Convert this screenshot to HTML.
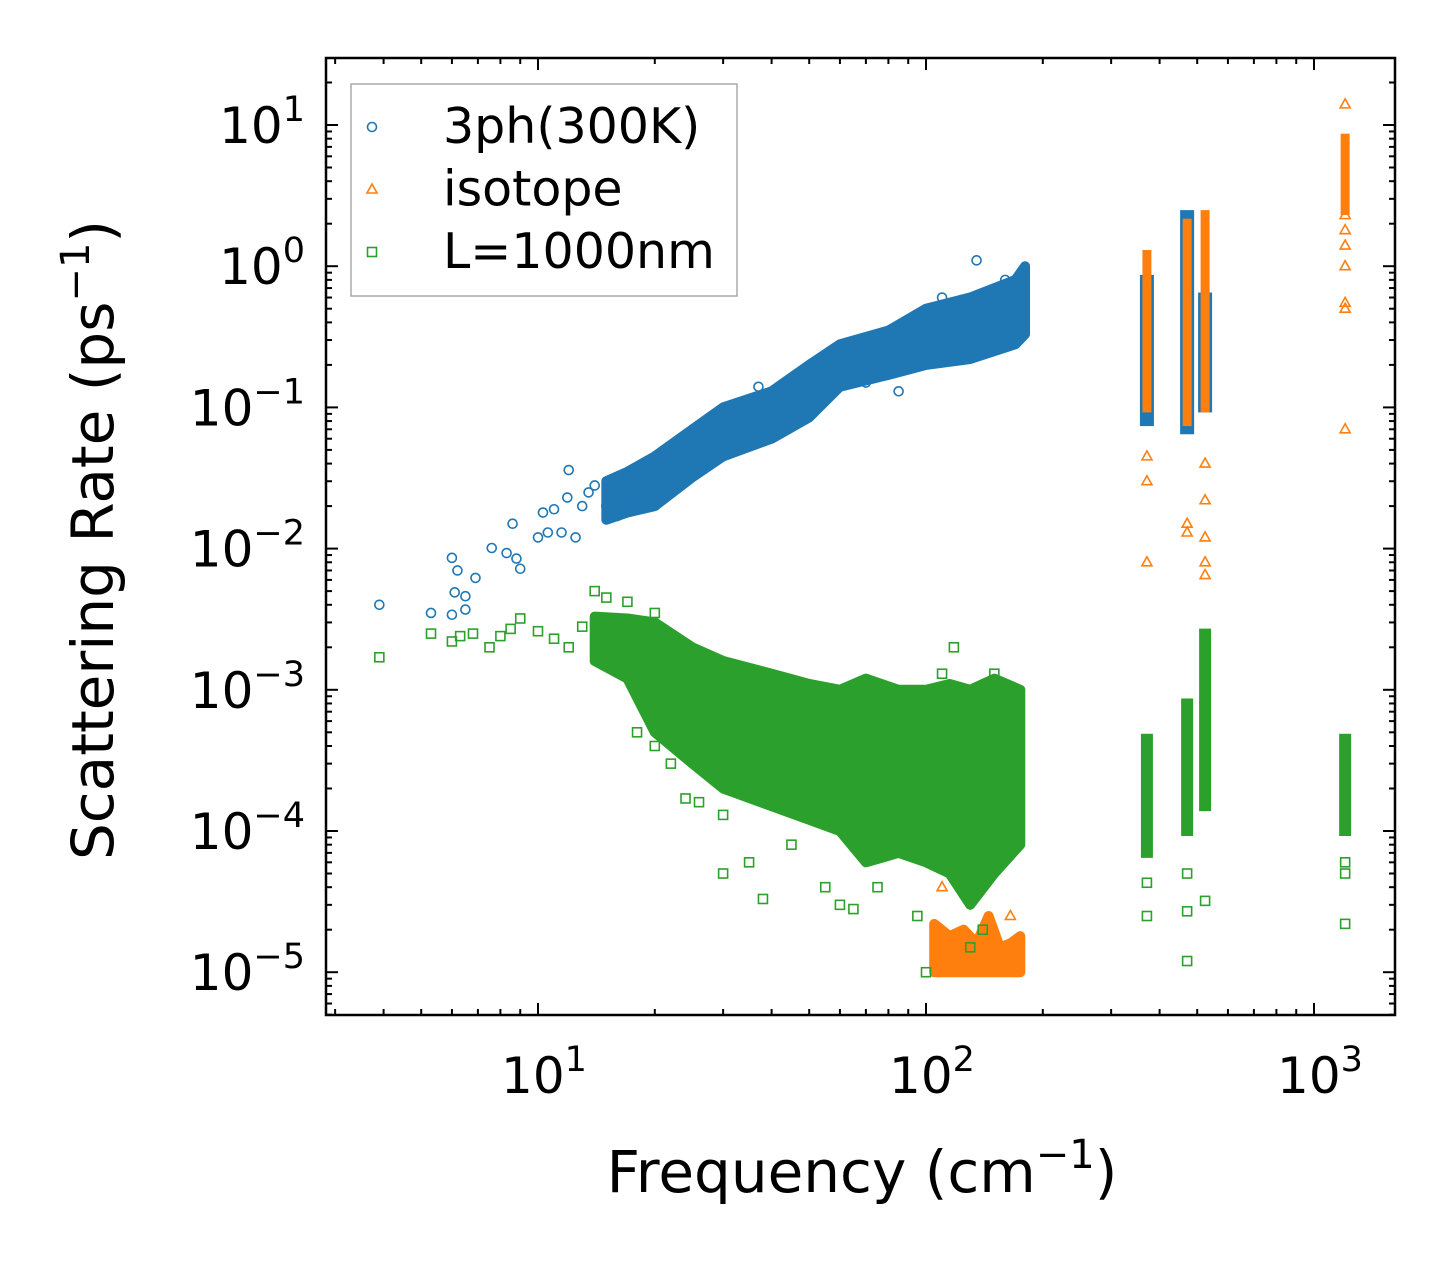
<!DOCTYPE html>
<html><head><meta charset="utf-8"><style>
body{margin:0;background:#fff}
svg{display:block;font-family:"DejaVu Sans","Liberation Sans",sans-serif}
</style></head><body>
<svg id="chart" width="1455" height="1265"></svg>
<script>
// ---- data ----
const blueCloudFreq=[15,17,20,25,30,40,50,60,80,100,130,170,180];
const blueCloudLo=[0.016,0.018,0.02,0.032,0.045,0.06,0.085,0.14,0.17,0.2,0.22,0.28,0.33];
const blueCloudHi=[0.03,0.035,0.045,0.07,0.1,0.13,0.2,0.28,0.35,0.5,0.6,0.8,1.0];
const blueColFreq=[371,471,524];
const blueColLo=[0.08,0.07,0.1];
const blueColHi=[0.8,2.3,0.6];
const bluePtsX=[3.9,5.3,6,6.1,6.2,6,6.5,6.5,6.9,7.6,8.3,8.6,8.8,9,10,10.3,10.6,11,11.5,11.9,12,12.5,13,13.5,14,15,16,17,18,19,85,70,37,110,135,160];
const bluePtsY=[0.004,0.0035,0.0086,0.0049,0.007,0.0034,0.0046,0.0037,0.0062,0.0101,0.0093,0.015,0.0085,0.0072,0.012,0.018,0.013,0.019,0.013,0.023,0.036,0.012,0.02,0.025,0.028,0.02,0.017,0.033,0.02,0.03,0.13,0.15,0.14,0.6,1.1,0.8];

const orangeColFreq=[371,471,524,1203];
const orangeColLo=[0.1,0.08,0.1,2.5];
const orangeColHi=[1.2,2.0,2.3,8];
const orangeCloudFreq=[105,115,125,135,145,155,165,175];
const orangeCloudLo=[1e-5,1e-5,1e-5,1e-5,1e-5,1e-5,1e-5,1e-5];
const orangeCloudHi=[2.2e-5,1.8e-5,2e-5,1.6e-5,2.5e-5,1.5e-5,1.6e-5,1.8e-5];
const orangePtsX=[371,371,371,471,471,524,524,524,524,524,1203,1203,1203,1203,1203,1203,1203,1203,165,145,110];
const orangePtsY=[0.008,0.03,0.045,0.013,0.015,0.0065,0.008,0.012,0.022,0.04,14,0.07,0.5,0.55,1,1.4,1.8,2.3,0.000025,0.00005,0.00004];

const greenCloudFreq=[14,17,20,25,30,40,50,60,70,85,100,115,130,150,175];
const greenCloudLo=[1.6e-3,1.2e-3,5e-4,3e-4,2e-4,1.5e-4,1.2e-4,1e-4,6e-5,7e-5,6e-5,5e-5,3e-5,5e-5,8e-5];
const greenCloudHi=[3.3e-3,3.2e-3,3e-3,2e-3,1.6e-3,1.3e-3,1.1e-3,1e-3,1.2e-3,1e-3,1e-3,1.1e-3,1e-3,1.2e-3,1e-3];
const greenColFreq=[371,471,524,1203];
const greenColLo=[7e-5,1e-4,1.5e-4,1e-4];
const greenColHi=[4.5e-4,8e-4,2.5e-3,4.5e-4];
const greenPtsX=[3.9,5.3,6,6.3,6.8,7.5,8,8.5,9,10,11,12,13,14,15,17,20,18,20,22,24,26,30,30,35,38,45,55,60,65,75,95,100,118,110,150,130,140,170,371,371,471,471,471,524,1203,1203,1203];
const greenPtsY=[0.0017,0.0025,0.0022,0.0024,0.0025,0.002,0.0024,0.0027,0.0032,0.0026,0.0023,0.002,0.0028,0.005,0.0045,0.0042,0.0035,0.0005,0.0004,0.0003,0.00017,0.00016,0.00013,0.00005,0.00006,0.000033,0.00008,0.00004,0.00003,0.000028,0.00004,0.000025,0.00001,0.002,0.0013,0.0013,0.000015,0.00002,0.00012,0.000025,0.000043,0.000012,0.000027,0.00005,0.000032,0.000022,0.00005,0.00006];

// ---- axes ----
const svg=document.getElementById('chart');
const NS='http://www.w3.org/2000/svg';
const L=326,R=1395,T=58,B=1015;
const X=f=>538+(Math.log10(f)-1)*388;
const Y=v=>125-(Math.log10(v)-1)*141.2;
function mk(tag,attrs,parent){const e=document.createElementNS(NS,tag);for(const k in attrs)e.setAttribute(k,attrs[k]);(parent||svg).appendChild(e);return e;}
const C={b:'#1f77b4',o:'#ff7f0e',g:'#2ca02c'};

const clip=mk('clipPath',{id:'pc'});mk('rect',{x:L,y:T,width:R-L,height:B-T},clip);
const plot=mk('g',{'clip-path':'url(#pc)'});



function cloud(fr,lo,hi,col,name){
  let pts=[];for(let i=0;i<fr.length;i++)pts.push(X(fr[i])+','+Y(hi[i]));
  for(let i=fr.length-1;i>=0;i--)pts.push(X(fr[i])+','+Y(lo[i]));
  const p=mk('polygon',{points:pts.join(' '),fill:col,stroke:col,'stroke-width':10,'stroke-linejoin':'round'},plot);
  
  
}
function cols(fr,lo,hi,col,name,w){
  for(let i=0;i<fr.length;i++){
    const r=mk('rect',{x:X(fr[i])-w/2,y:Y(hi[i])-5,width:w,height:Y(lo[i])-Y(hi[i])+10,fill:col},plot);
    
    
  }
}
function marker(type,x,y,col,g){
  let e;
  if(type==='o')e=mk('circle',{cx:x,cy:y,r:4.5,fill:'none',stroke:col,'stroke-width':1.6},g);
  else if(type==='^')e=mk('polygon',{points:`${x},${y-5.5} ${x-5},${y+3.5} ${x+5},${y+3.5}`,fill:'none',stroke:col,'stroke-width':1.6},g);
  else e=mk('rect',{x:x-4.5,y:y-4.5,width:9,height:9,fill:'none',stroke:col,'stroke-width':1.6},g);
  return e;
}
function pts(xs,ys,type,col,name){
  for(let i=0;i<xs.length;i++){
    const e=marker(type,X(xs[i]),Y(ys[i]),col,plot);
    
    
  }
}
cloud(blueCloudFreq,blueCloudLo,blueCloudHi,C.b,'3ph-cloud');
cols(blueColFreq,blueColLo,blueColHi,C.b,'3ph-column',14);
pts(bluePtsX,bluePtsY,'o',C.b,'3ph-point');
cols(orangeColFreq,orangeColLo,orangeColHi,C.o,'isotope-column',9);
cloud(orangeCloudFreq,orangeCloudLo,orangeCloudHi,C.o,'isotope-cloud');
pts(orangePtsX,orangePtsY,'^',C.o,'isotope-point');
cloud(greenCloudFreq,greenCloudLo,greenCloudHi,C.g,'boundary-cloud');
cols(greenColFreq,greenColLo,greenColHi,C.g,'boundary-column',12);
pts(greenPtsX,greenPtsY,'s',C.g,'boundary-point');

// frame & ticks
const fr=mk('rect',{x:L,y:T,width:R-L,height:B-T,fill:'none',stroke:'#000','stroke-width':2.5});


const tg=mk('g',{stroke:'#000','stroke-width':2});
for(let d=0;d<=3;d++)for(let m=1;m<10;m++){
  const f=m*Math.pow(10,d);const x=X(f);if(x<L||x>R)continue;const len=m===1?12:6;
  mk('line',{x1:x,y1:B,x2:x,y2:B-len},tg);mk('line',{x1:x,y1:T,x2:x,y2:T+len},tg);
}
for(let d=-6;d<=1;d++)for(let m=1;m<10;m++){
  const v=m*Math.pow(10,d);const y=Y(v);if(y<T||y>B)continue;const len=m===1?12:6;
  mk('line',{x1:L,y1:y,x2:L+len,y2:y},tg);mk('line',{x1:R,y1:y,x2:R-len,y2:y},tg);
}
// tick labels
const xt=[1,2,3];
xt.forEach(p=>{const t=mk('text',{x:X(Math.pow(10,p))+6,y:1093,'font-size':50,'text-anchor':'middle'});
 t.innerHTML=`10<tspan dy="-22" font-size="35">${p}</tspan>`;
 });
const yt=[1,0,-1,-2,-3,-4,-5];
yt.forEach(p=>{const t=mk('text',{x:305,y:Y(Math.pow(10,p))+18,'font-size':50,'text-anchor':'end'});
 t.innerHTML=`10<tspan dy="-22" font-size="35">${p<0?'\u2212'+(-p):p}</tspan>`;
 });
// axis titles
const xtl=mk('text',{x:862,y:1192,'font-size':58,'text-anchor':'middle'});
xtl.innerHTML='Frequency (cm<tspan dy="-24" font-size="40">\u22121</tspan><tspan dy="24">)</tspan>';

const ytl=mk('text',{x:0,y:0,'font-size':58,'text-anchor':'middle',transform:'translate(113,540) rotate(-90)'});
ytl.innerHTML='Scattering Rate (ps<tspan dy="-24" font-size="40">\u22121</tspan><tspan dy="24">)</tspan>';

// legend
const lg=mk('g',{});

mk('rect',{x:351,y:84,width:386,height:212,fill:'#fff',stroke:'#aaa','stroke-width':1.5},lg);
const legLabels=['3ph(300K)','isotope','L=1000nm'];
const legTypes=['o','^','s'];const legCols=[C.b,C.o,C.g];
legLabels.forEach((s,i)=>{const y=127+i*62.5;
 const m=marker(legTypes[i],372,y,legCols[i],lg);
 
 const t=mk('text',{x:443,y:y+16,'font-size':49},lg);t.textContent=s;
 });
</script>
</body></html>
